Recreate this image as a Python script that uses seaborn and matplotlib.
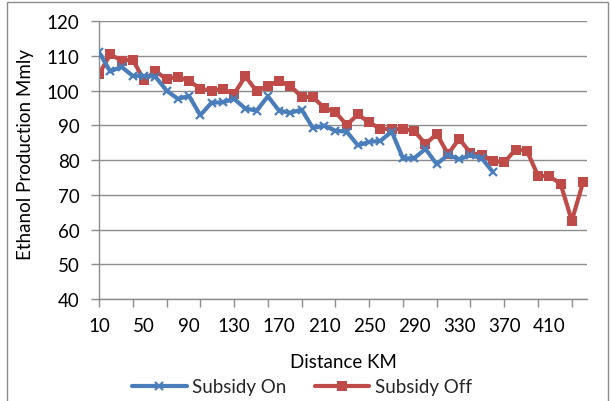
import numpy as np
import pandas as pd
import matplotlib
matplotlib.use("Agg")
import matplotlib.pyplot as plt
import seaborn as sns
from matplotlib.patches import Rectangle
from matplotlib.lines import Line2D

distance_on = list(range(10, 370, 10))
subsidy_on = [111.0, 105.5, 106.8, 104.2, 104.2, 104.0, 100.0, 97.6, 98.4, 92.9,
              96.5, 96.6, 97.6, 94.8, 94.2, 98.3, 94.2, 93.6, 94.5, 89.2,
              89.9, 88.4, 88.2, 84.2, 85.2, 85.5, 88.2, 80.5, 80.5, 83.2,
              78.8, 81.5, 80.2, 81.4, 80.5, 76.5]
distance_off = list(range(10, 450, 10))
subsidy_off = [104.7, 110.4, 108.6, 108.9, 102.9, 105.6, 103.3, 104.0, 102.8, 100.5,
               100.0, 100.4, 99.0, 104.1, 99.8, 101.4, 102.7, 101.3, 98.2, 98.1,
               95.0, 93.8, 90.1, 93.1, 90.8, 89.0, 88.9, 88.9, 88.4, 84.6,
               87.5, 81.7, 86.1, 82.0, 81.5, 79.8, 79.3, 83.0, 82.7, 75.5,
               75.3, 73.2, 62.5, 73.6]
x_labels = list(range(10, 420, 40))
y_ticks = list(range(40, 130, 10))

blue = "#4A7EBB"
red = "#BE4B48"
FS = 13.5

sns.set_theme(style="white")
plt.rcParams['font.family'] = ['Lato', 'DejaVu Sans']

fig = plt.figure(figsize=(6.11, 4.02), dpi=100)
ax = fig.add_axes([99/611, 1 - 300/402, (587 - 99)/611, (300 - 22)/402])

df_on = pd.DataFrame({"Distance": distance_on, "Production": subsidy_on})
df_off = pd.DataFrame({"Distance": distance_off, "Production": subsidy_off})

sns.lineplot(data=df_on, x="Distance", y="Production", ax=ax, color=blue,
             linewidth=3.0, marker="x", markersize=6, markeredgewidth=1.6,
             markeredgecolor=blue, label="Subsidy On", zorder=3)
sns.lineplot(data=df_off, x="Distance", y="Production", ax=ax, color=red,
             linewidth=3.0, marker="s", markersize=6.5, markeredgewidth=0,
             markerfacecolor=red, label="Subsidy Off", zorder=2)

ax.set_xlim(10, 443.5)
ax.set_ylim(40, 120)
ax.set_yticks(y_ticks)
ax.yaxis.grid(True, color="#8C8C8C", linewidth=1.0)
ax.xaxis.grid(False)
ax.set_axisbelow(True)

# tick marks every 3 categories, labels every 4 categories
ax.xaxis.remove_overlapping_locs = False
ax.set_xticks(list(range(10, 440, 30)))
ax.set_xticklabels([])
ax.set_xticks(x_labels, minor=True)
ax.set_xticklabels([str(v) for v in x_labels], minor=True)
ax.tick_params(axis="x", which="major", direction="out", length=6, width=1,
               color="#8C8C8C", bottom=True)
ax.tick_params(axis="x", which="minor", length=0, pad=13, labelsize=FS,
               labelcolor="black")
ax.tick_params(axis="y", which="major", direction="out", length=6, width=1,
               color="#8C8C8C", left=True, pad=8, labelsize=FS, labelcolor="black")

for s in ["top", "right"]:
    ax.spines[s].set_visible(False)
for s in ["left", "bottom"]:
    ax.spines[s].set_color("#8C8C8C")
    ax.spines[s].set_linewidth(1.0)

ax.set_xlabel("")
ax.set_ylabel("")
fig.text(26/611, 1 - 155/402, "Ethanol Production Mmly", rotation=90,
         ha="center", va="center", fontsize=FS, color="black")
fig.text(343/611, 1 - 363/402, "Distance KM", ha="center", va="center",
         fontsize=FS, color="black")

ax.get_legend().remove()
handles = [
    Line2D([0], [0], color=blue, linewidth=3.0, marker="x", markersize=6,
           markeredgewidth=1.6),
    Line2D([0], [0], color=red, linewidth=3.0, marker="s", markersize=6.5,
           markeredgewidth=0),
]
fig.legend(handles, ["Subsidy On", "Subsidy Off"], loc="center",
           bbox_to_anchor=(302/611, 1 - 388/402), ncol=2, frameon=False,
           fontsize=FS, handlelength=2.9, handletextpad=0.3, columnspacing=1.5,
           borderpad=0, borderaxespad=0)

frame = Rectangle((7/611, -0.05), (608 - 7)/611, 1 - 3/402 + 0.05,
                  transform=fig.transFigure, fill=False, edgecolor="#8C8C8C",
                  linewidth=1.0)
fig.patches.append(frame)

fig.savefig("out.png", dpi=100)
